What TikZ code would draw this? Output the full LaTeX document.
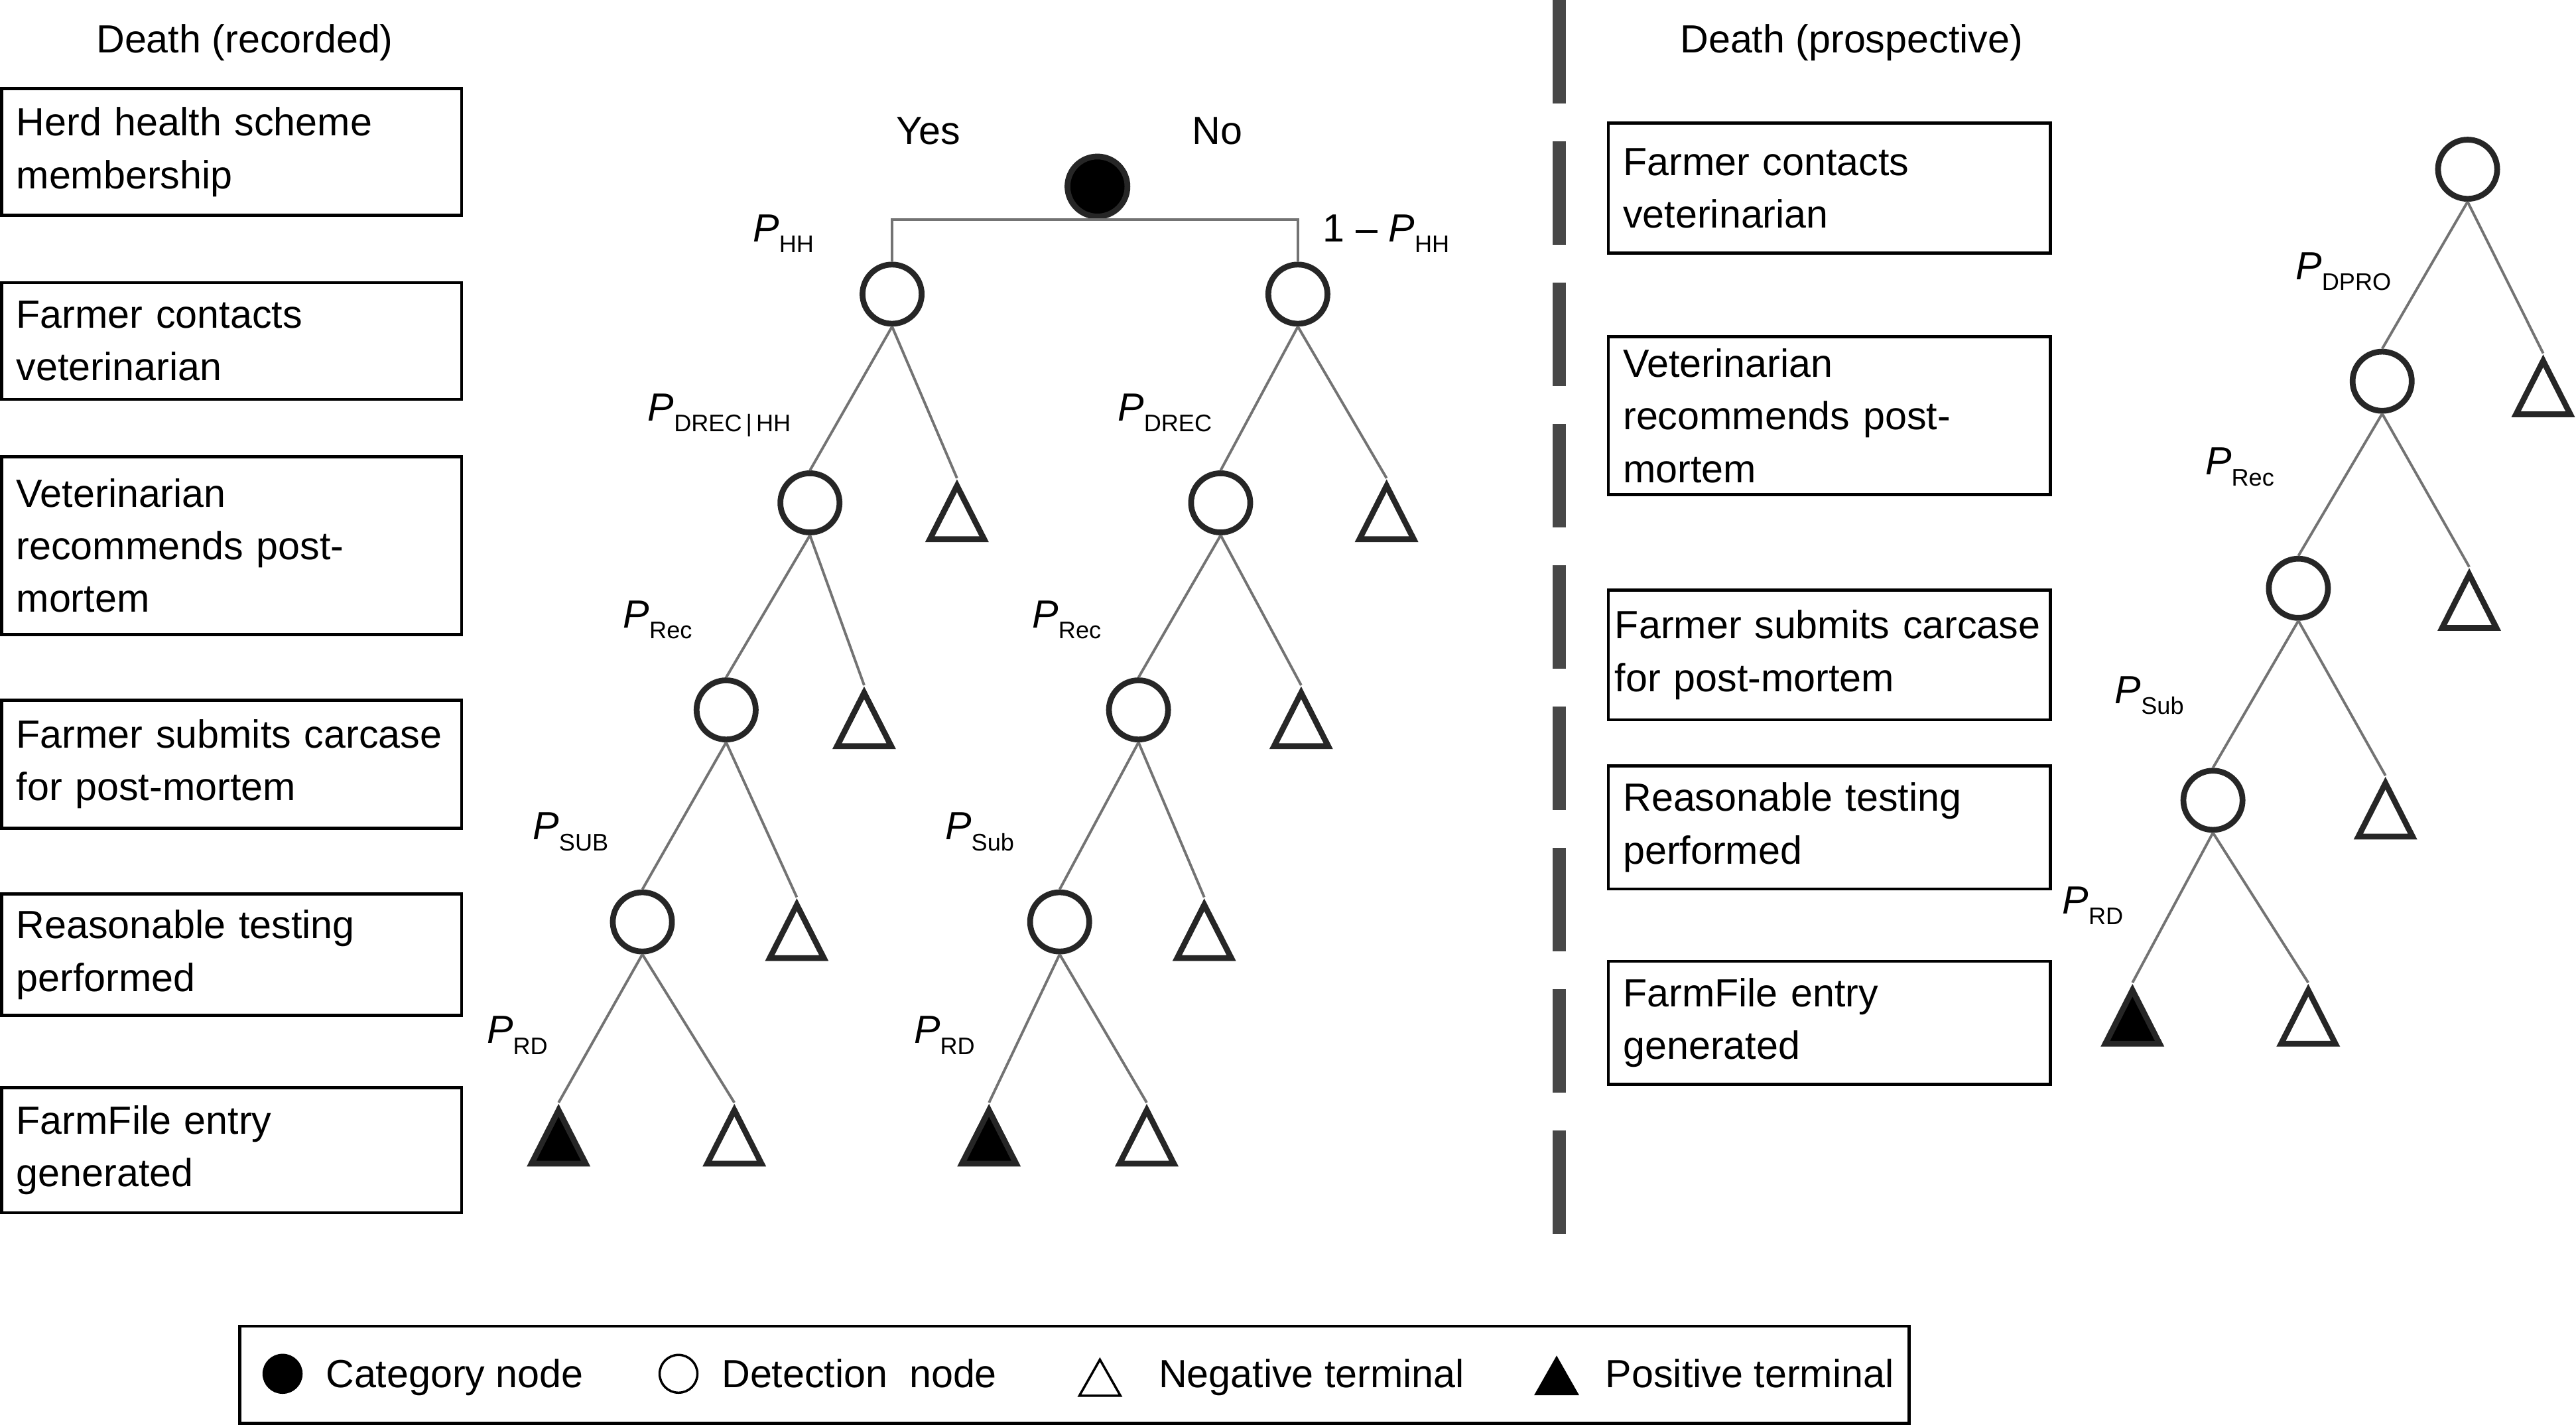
\documentclass[tikz,border=0pt]{standalone}
\usepackage{fontspec}
\setmainfont{Liberation Sans}
\usetikzlibrary{shapes.geometric}

\newcommand{\plab}[1]{\textit{P}\raisebox{-3.8pt}{\fontsize{8.3}{9}\selectfont #1}}

\tikzset{
  catnode/.style={circle, fill=black, draw=black!85, line width=2pt,
                  minimum size=0.73cm, inner sep=0pt},
  detnode/.style={circle, fill=white, draw=black!85, line width=2pt,
                  minimum size=0.72cm, inner sep=0pt},
  negnode/.style={isosceles triangle, isosceles triangle stretches,
                  shape border rotate=90, anchor=apex, fill=white, draw=black!85,
                  line width=2pt, minimum width=0.66cm, minimum height=0.65cm, inner sep=0pt},
  posnode/.style={negnode, fill=black},
  branch/.style={draw=black!55, line width=0.9pt},
  stepbox/.style={draw=black, line width=1.1pt, align=left,
                  inner xsep=0.18cm, inner ysep=0pt},
  plabel/.style={anchor=base west, inner sep=0pt},
  keysym/.style={draw=black, line width=0.8pt, inner sep=0pt},
  keytri/.style={keysym, isosceles triangle, isosceles triangle stretches,
                 shape border rotate=90, anchor=apex, minimum width=0.5cm, minimum height=0.44cm}
}

\begin{document}
\begin{tikzpicture}[every node/.style={font=\fontsize{13.6}{18.2}\selectfont}]
    \useasboundingbox (0,0) rectangle (31.36,-17.36);

    % headings
    \node[anchor=base] (headrec) at (2.98,-0.64) {Death (recorded)};
    \node[anchor=base] (headpro) at (22.54,-0.64) {Death (prospective)};

    % steps, recorded deaths
    \node[stepbox, text width=5.24cm, minimum height=1.54cm] (recA) at (2.82,-1.85)
          {Herd health scheme\\membership};
    \node[stepbox, text width=5.24cm, minimum height=1.42cm] (recB) at (2.82,-4.15)
          {Farmer contacts\\veterinarian};
    \node[stepbox, text width=5.24cm, minimum height=2.16cm] (recC) at (2.82,-6.64)
          {Veterinarian\\recommends post-\\mortem};
    \node[stepbox, text width=5.24cm, minimum height=1.56cm] (recD) at (2.82,-9.30)
          {Farmer submits carcase\\for post-mortem};
    \node[stepbox, text width=5.24cm, minimum height=1.48cm] (recE) at (2.82,-11.62)
          {Reasonable testing\\performed};
    \node[stepbox, text width=5.24cm, minimum height=1.52cm] (recF) at (2.82,-14.00)
          {FarmFile entry\\generated};

    % steps, prospective deaths
    \node[stepbox, text width=5.02cm, minimum height=1.58cm] (proA) at (22.27,-2.29)
          {Farmer contacts\\veterinarian};
    \node[stepbox, text width=5.02cm, minimum height=1.92cm] (proB) at (22.27,-5.06)
          {Veterinarian\\recommends post-\\mortem};
    \node[stepbox, text width=5.22cm, inner xsep=0.08cm, minimum height=1.58cm] (proC) at (22.27,-7.97)
          {Farmer submits carcase\\for post-mortem};
    \node[stepbox, text width=5.02cm, minimum height=1.50cm] (proD) at (22.27,-10.07)
          {Reasonable testing\\performed};
    \node[stepbox, text width=5.02cm, minimum height=1.50cm] (proE) at (22.27,-12.45)
          {FarmFile entry\\generated};

    % divider
    \draw[black!72, line width=0.16cm, dash pattern=on 1.26cm off 0.46cm]
          (18.98,0) -- (18.98,-15.02);

    % recorded tree
    \node[catnode] (root) at (13.36,-2.27) {};
    \node (yes) at (11.30,-1.76) [anchor=base] {Yes};
    \node (no) at (14.82,-1.76) [anchor=base] {No};
    \node[detnode] (y1) at (10.86,-3.58) {};
    \node[detnode] (n1) at (15.80,-3.58) {};
    \node[detnode] (y2) at (9.86,-6.12) {};
    \node[negnode] (yn2) at (11.65,-5.82) {};
    \node[detnode] (n2) at (14.86,-6.12) {};
    \node[negnode] (nn2) at (16.88,-5.82) {};
    \node[detnode] (y3) at (8.84,-8.64) {};
    \node[negnode] (yn3) at (10.52,-8.34) {};
    \node[detnode] (n3) at (13.86,-8.64) {};
    \node[negnode] (nn3) at (15.84,-8.34) {};
    \node[detnode] (y4) at (7.82,-11.22) {};
    \node[negnode] (yn4) at (9.70,-10.92) {};
    \node[detnode] (n4) at (12.90,-11.22) {};
    \node[negnode] (nn4) at (14.66,-10.92) {};
    \node[posnode] (yp5) at (6.80,-13.42) {};
    \node[negnode] (yn5) at (8.94,-13.42) {};
    \node[posnode] (np5) at (12.04,-13.42) {};
    \node[negnode] (nn5) at (13.96,-13.42) {};

    \draw[branch] (y1.north) |- (root.south) -| (n1.north);
    \draw[branch] (y1.south) -- (y2.north);
    \draw[branch] (y1.south) -- (yn2.apex);
    \draw[branch] (n1.south) -- (n2.north);
    \draw[branch] (n1.south) -- (nn2.apex);
    \draw[branch] (y2.south) -- (y3.north);
    \draw[branch] (y2.south) -- (yn3.apex);
    \draw[branch] (n2.south) -- (n3.north);
    \draw[branch] (n2.south) -- (nn3.apex);
    \draw[branch] (y3.south) -- (y4.north);
    \draw[branch] (y3.south) -- (yn4.apex);
    \draw[branch] (n3.south) -- (n4.north);
    \draw[branch] (n3.south) -- (nn4.apex);
    \draw[branch] (y4.south) -- (yp5.apex);
    \draw[branch] (y4.south) -- (yn5.apex);
    \draw[branch] (n4.south) -- (np5.apex);
    \draw[branch] (n4.south) -- (nn5.apex);

    \node[plabel] (phh) at (9.16,-2.94) {\plab{HH}};
    \node[plabel] (pnhh) at (16.10,-2.94) {1 -- \plab{HH}};
    \node[plabel] (pdrechh) at (7.88,-5.12) {\plab{DREC\,|\,HH}};
    \node[plabel] (pdrec) at (13.60,-5.12) {\plab{DREC}};
    \node[plabel] (precy) at (7.58,-7.64) {\plab{Rec}};
    \node[plabel] (precn) at (12.56,-7.64) {\plab{Rec}};
    \node[plabel] (psuby) at (6.48,-10.22) {\plab{SUB}};
    \node[plabel] (psubn) at (11.50,-10.22) {\plab{Sub}};
    \node[plabel] (prdy) at (5.92,-12.70) {\plab{RD}};
    \node[plabel] (prdn) at (11.12,-12.70) {\plab{RD}};

    % prospective tree
    \node[detnode] (d1) at (30.04,-2.06) {};
    \node[detnode] (d2) at (29.00,-4.64) {};
    \node[negnode] (dn2) at (30.96,-4.30) {};
    \node[detnode] (d3) at (27.98,-7.16) {};
    \node[negnode] (dn3) at (30.06,-6.90) {};
    \node[detnode] (d4) at (26.94,-9.74) {};
    \node[negnode] (dn4) at (29.04,-9.44) {};
    \node[posnode] (dp5) at (25.96,-11.96) {};
    \node[negnode] (dn5) at (28.10,-11.96) {};

    \draw[branch] (d1.south) -- (d2.north);
    \draw[branch] (d1.south) -- (dn2.apex);
    \draw[branch] (d2.south) -- (d3.north);
    \draw[branch] (d2.south) -- (dn3.apex);
    \draw[branch] (d3.south) -- (d4.north);
    \draw[branch] (d3.south) -- (dn4.apex);
    \draw[branch] (d4.south) -- (dp5.apex);
    \draw[branch] (d4.south) -- (dn5.apex);

    \node[plabel] (pdpro) at (27.94,-3.40) {\plab{DPRO}};
    \node[plabel] (precd) at (26.84,-5.78) {\plab{Rec}};
    \node[plabel] (psubd) at (25.74,-8.56) {\plab{Sub}};
    \node[plabel] (prdd) at (25.10,-11.12) {\plab{RD}};

    % key
    \node[draw, line width=1.1pt, minimum width=20.32cm, minimum height=1.18cm,
          inner sep=0pt] (key) at (13.08,-16.73) {};
    \node[keysym, circle, fill=black, minimum size=0.46cm] (keycat) at (3.44,-16.72) {};
    \node[keysym, circle, minimum size=0.46cm] (keydet) at (8.26,-16.72) {};
    \node[keytri, fill=white] (keyneg) at (13.39,-16.51) {};
    \node[keytri, fill=black] (keypos) at (18.95,-16.49) {};
    \node[plabel] (keycattxt) at (3.96,-16.89) {Category node};
    \node[plabel] (keydettxt) at (8.78,-16.89) {Detection\ \ node};
    \node[plabel] (keynegtxt) at (14.10,-16.89) {Negative terminal};
    \node[plabel] (keypostxt) at (19.54,-16.89) {Positive terminal};
\end{tikzpicture}
\end{document}
